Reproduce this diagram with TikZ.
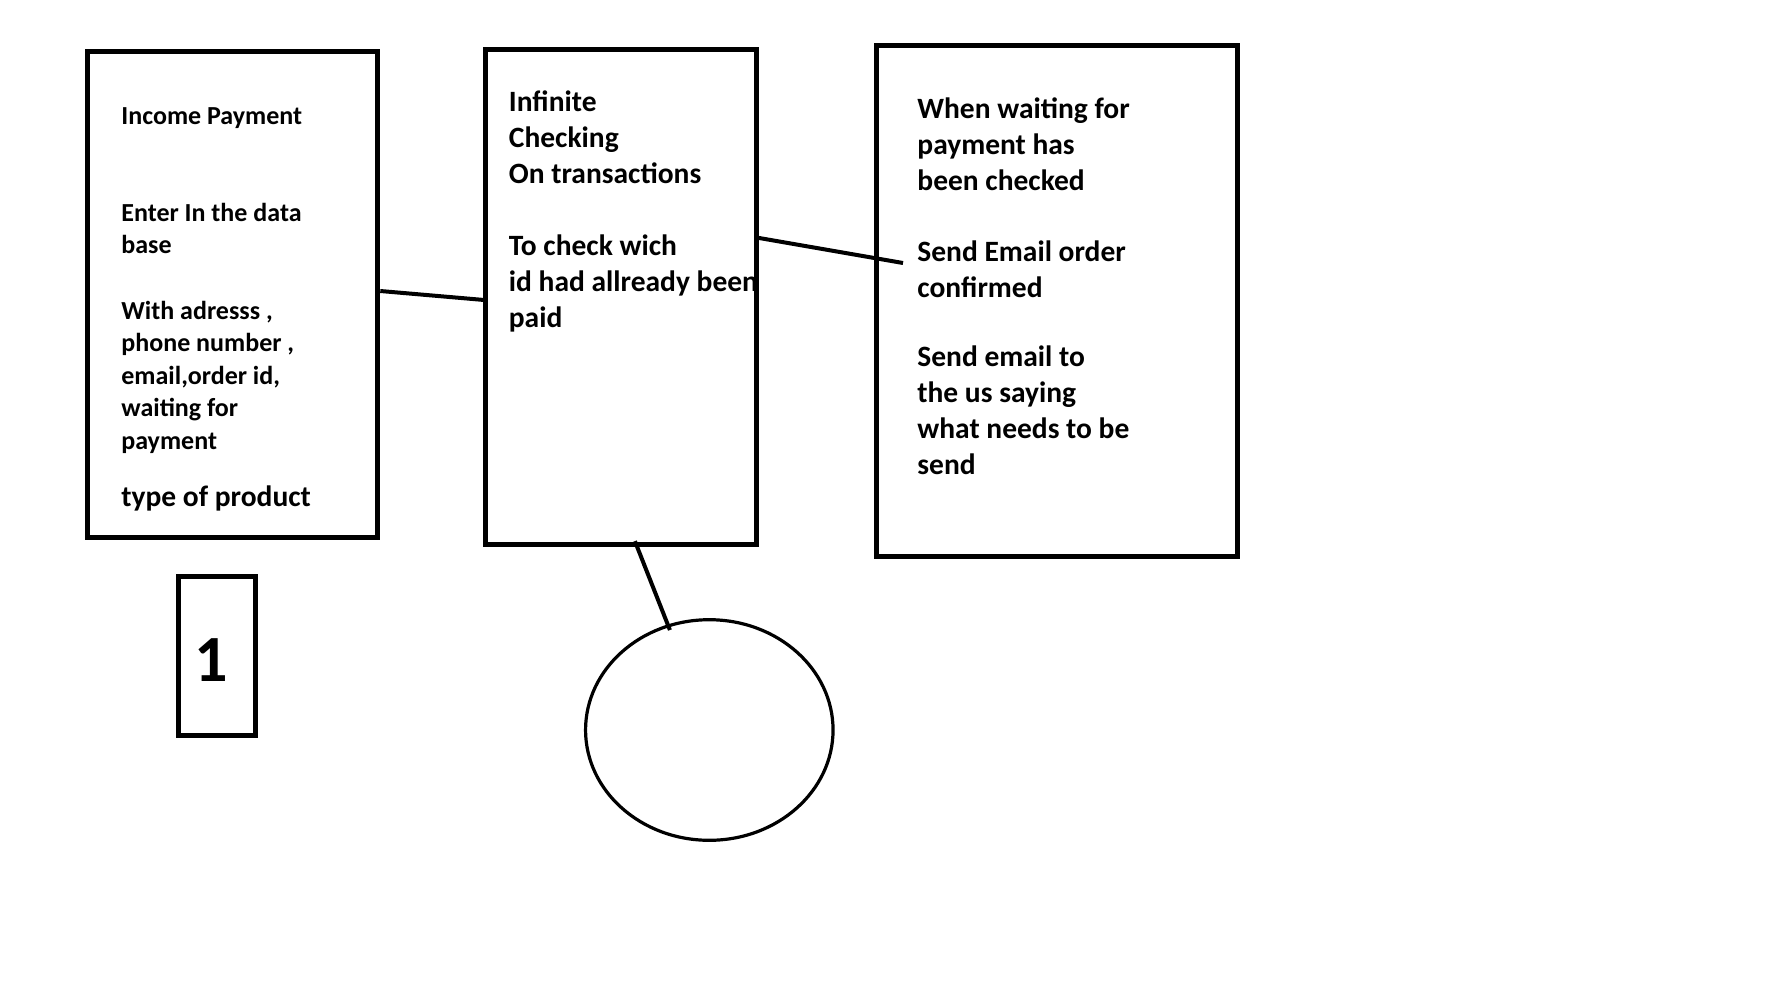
\documentclass[tikz,border=0pt]{standalone}
\usepackage{fontspec}
\setmainfont{Carlito}
\usetikzlibrary{shapes.geometric}
\newcommand{\smalltext}{\fontsize{13pt}{16.3pt}\selectfont\bfseries}
\newcommand{\bigtext}{\fontsize{14.75pt}{18pt}\selectfont\bfseries}
\begin{document}
\begin{tikzpicture}[x=0.5pt, y=-0.5pt,
		box/.style={draw, line width=2.5pt, inner sep=0pt},
		note/.style={anchor=north west, inner sep=0pt, align=left},
		link/.style={line width=2pt}]
	\useasboundingbox (0,0) rectangle (1766,997);
	% boxes
	\node [box, minimum width=145.4pt, minimum height=243pt] (income) at (232.4,294) {};
	\node [box, minimum width=135.25pt, minimum height=247.75pt] (check) at (620.9,296.9) {};
	\node [box, minimum width=180.8pt, minimum height=255.5pt] (mail) at (1056.8,300.5) {};
	\node [box, minimum width=38.8pt, minimum height=79.3pt, text height=25pt, text depth=0pt,
		font=\fontsize{33pt}{40pt}\selectfont\bfseries] (one) at (216.8,656) {1\kern5.6pt};
	\node [draw, ellipse, line width=1.6pt, inner sep=0pt,
		minimum width=123.75pt, minimum height=110.3pt] (ell) at (709.3,730) {};
	% texts
	\node [note, font=\smalltext] (incomeText) at (121,101) {\strut Income Payment\\[32.2pt]
		Enter In the data\\ base\\[16.3pt]
		With adresss ,\\ phone number ,\\ email,order id,\\ waiting for\\ payment};
	\node [note, font=\bigtext] (productText) at (121,481) {\strut type of product};
	\node [note, font=\bigtext] (checkText) at (508.5,86) {\strut Infinite\\ Checking\\ On transactions\\[18pt]
		To check wich\\ id had allready been\\ paid};
	\node [note, font=\bigtext] (mailText) at (917,93) {\strut When waiting for\\ payment has\\ been checked\\[17.5pt]
		Send Email order\\ confirmed\\[16.3pt]
		Send email to\\ the us saying\\ what needs to be\\ send};
	% connectors
	\coordinate (mailTip) at (903,263);
	\draw [link] ([yshift=1.5pt]income.east) -- ([yshift=-1.5pt]check.west);
	\draw [link] ([yshift=29.5pt]check.east) -- (mailTip);
	\draw [link, shorten >=-3pt] ([xshift=7pt, yshift=3pt]check.south) -- (ell);
\end{tikzpicture}
\end{document}
